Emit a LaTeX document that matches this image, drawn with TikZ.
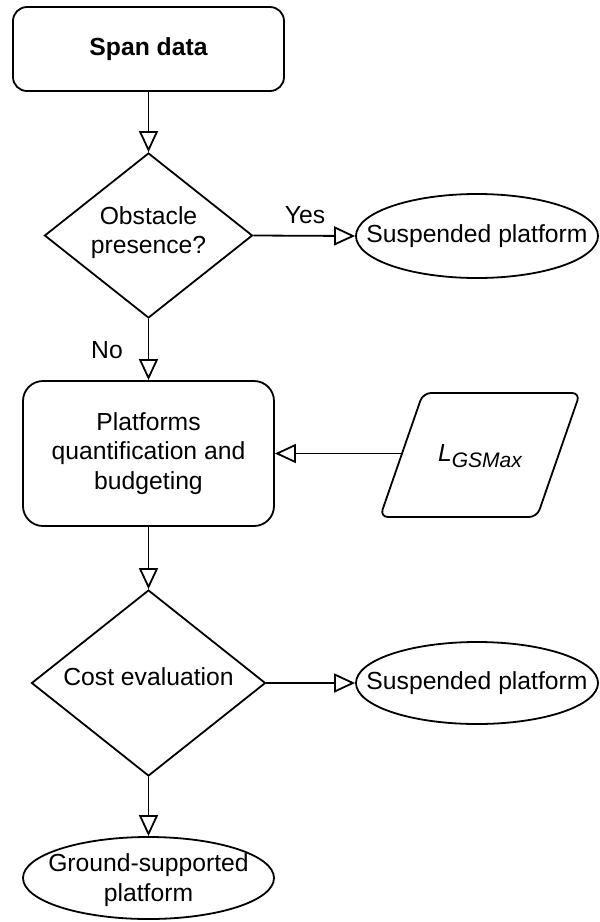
\documentclass[tikz,border=0pt]{standalone}
\usepackage{fontspec}
\setmainfont{Liberation Sans}
\usetikzlibrary{arrows.meta,shapes.geometric}

\tikzset{
  txt/.style={font=\fontsize{24.7pt}{29.5pt}\selectfont, align=center, inner sep=0pt},
  rbox/.style={draw, line width=1.8pt, txt},
  dia/.style={draw, line width=1.8pt, diamond, inner sep=0pt},
  term/.style={draw, line width=1.8pt, ellipse, inner sep=0pt},
  arr/.style={line width=1.8pt, -{Triangle[open, length=21pt, width=19pt, line width=1.8pt]}},
  lbl/.style={txt}
}

\begin{document}
\begin{tikzpicture}[x=1pt, y=-1pt]
  % page frame
  \path[fill=white, use as bounding box] (0,0) rectangle (600,922);

  % start block
  \node[rbox, rounded corners=14pt, minimum width=271pt, minimum height=84pt]
    (span) at (148.5,49) {\bfseries Span data};

  % first decision
  \node[dia, minimum width=208pt, minimum height=165pt,
        label={[txt, yshift=3pt]center:Obstacle\\presence?}]
    (obst) at (148.5,235.5) {};

  \node[term, minimum width=242pt, minimum height=84pt,
        label={[txt]center:Suspended platform}]
    (susp1) at (477,236) {};

  % processing block
  \node[rbox, rounded corners=20pt, minimum width=251pt, minimum height=145pt]
    (proc) at (148.5,453.5) {Platforms\\quantification and\\budgeting};

  % input parallelogram
  \draw[line width=1.8pt, rounded corners=8pt]
    (423,393) -- (580,393) -- (537,517) -- (380,517) -- cycle;
  \node[txt] (lgs) at (480,456)
    {\itshape L\raisebox{-6pt}{\fontsize{21pt}{21pt}\selectfont GSMax}};
  \coordinate (lin) at (402,453.5);

  % second decision
  \node[dia, minimum width=234pt, minimum height=186pt,
        label={[txt, yshift=6pt]center:Cost evaluation}]
    (cost) at (148.5,683) {};

  \node[term, minimum width=242pt, minimum height=82pt,
        label={[txt]center:Suspended platform}]
    (susp2) at (477,683) {};

  \node[term, minimum width=251pt, minimum height=82pt,
        label={[txt, yshift=-2pt]center:Ground-supported\\platform}]
    (ground) at (148.5,878) {};

  % connectors
  \draw[arr] (span.south) -- (obst.north);
  \draw[arr] (obst.east) -- (susp1.west);
  \draw[arr] (obst.south) -- (proc.north);
  \draw[arr] (lin) -- (proc.east);
  \draw[arr] (proc.south) -- (cost.north);
  \draw[arr] (cost.east) -- (susp2.west);
  \draw[arr] (cost.south) -- (ground.north);

  % branch labels
  \node[lbl] (yes) at (305,215) {Yes};
  \node[lbl] (no) at (107,350) {No};
\end{tikzpicture}
\end{document}
